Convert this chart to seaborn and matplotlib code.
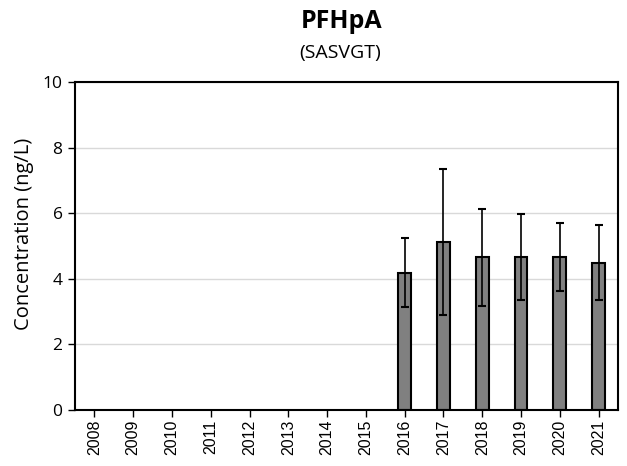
import numpy as np
import pandas as pd
import matplotlib
matplotlib.use("Agg")
import matplotlib.pyplot as plt
import seaborn as sns

years = ["2008", "2009", "2010", "2011", "2012", "2013", "2014",
         "2015", "2016", "2017", "2018", "2019", "2020", "2021"]
means = [np.nan, np.nan, np.nan, np.nan, np.nan, np.nan, np.nan,
         np.nan, 4.19, 5.12, 4.65, 4.67, 4.67, 4.49]
errors = [np.nan, np.nan, np.nan, np.nan, np.nan, np.nan, np.nan,
          np.nan, 1.06, 2.23, 1.48, 1.32, 1.04, 1.14]

sns.set_theme(style="white")
plt.rcParams['font.family'] = ['Open Sans', 'DejaVu Sans']
plt.rcParams['text.color'] = 'black'
plt.rcParams['axes.labelcolor'] = 'black'
plt.rcParams['xtick.color'] = 'black'
plt.rcParams['ytick.color'] = 'black'

df = pd.DataFrame({"Year": years, "Conc": means, "Err": errors})

fig = plt.figure(figsize=(6.27, 4.66), dpi=100)
ax = fig.add_axes([75/627, 1-410/466, (618-75)/627, (410-82)/466])

sns.barplot(data=df, x="Year", y="Conc", order=years, color="#808080",
            width=0.33, edgecolor="black", linewidth=1.5, saturation=1,
            errorbar=None, ax=ax, zorder=2)
xpos = np.arange(len(years))
ax.errorbar(xpos, df["Conc"], yerr=df["Err"], fmt="none", ecolor="black",
            elinewidth=1.2, capsize=2.6, capthick=1.5, zorder=3)

ax.set_ylim(0, 10)
ax.set_xlim(-0.5, len(years)-0.5)
ax.set_yticks([0, 2, 4, 6, 8, 10])
ax.yaxis.grid(True, color="#d9d9d9", linewidth=1.0, zorder=0)
ax.set_axisbelow(True)
for s in ax.spines.values():
    s.set_color("black")
    s.set_linewidth(1.5)
    s.set_visible(True)
ax.tick_params(axis="y", which="major", left=True, length=5, width=1, color="black",
               labelsize=12.5, pad=4, labelcolor="black")
ax.tick_params(axis="x", which="major", bottom=True, length=5, width=1, color="black",
               labelsize=11.5, pad=2, labelcolor="black", labelrotation=90,
               labelfontfamily="Liberation Sans")
ax.set_xlabel("")
ax.set_ylabel("Concentration (ng/L)", fontsize=14.5, color="black")
ax.yaxis.set_label_coords(-(75 - 34) / 543, (410 - 234) / 328)

fig.text(342/627, 1-21/466, "PFHpA", ha="center", va="center",
         fontsize=18, fontweight="bold", color="black")
fig.text(340/627, 1-53/466, "(SASVGT)", ha="center", va="center",
         fontsize=14, color="black")

fig.savefig("out.png", dpi=100)
